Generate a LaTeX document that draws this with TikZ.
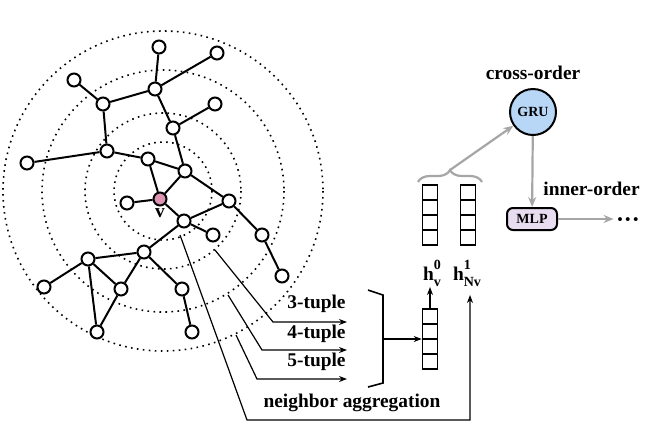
\documentclass[tikz,border=0pt]{standalone}
\usepackage{fontspec}
\usepackage{amsmath}
\setmainfont{Liberation Serif}
\usetikzlibrary{arrows.meta,positioning,calc,decorations.pathreplacing}

\definecolor{vpink}{RGB}{221,148,178}
\definecolor{grublue}{RGB}{184,214,245}
\definecolor{mlplav}{RGB}{232,220,240}
\definecolor{flowgray}{RGB}{166,166,166}

\newcommand{\hvec}[2]{h\makebox[0pt][l]{\raisebox{5.5pt}{\fontsize{7}{8}\selectfont #1}}\raisebox{-3pt}{\fontsize{7}{8}\selectfont #2}}

\tikzset{
  vtx/.style={circle, draw, line width=1pt, fill=white, inner sep=0pt, minimum size=6.5pt},
  ring/.style={line width=0.8pt, dash pattern=on 0.8pt off 2.2pt},
  edge/.style={line width=1pt},
  cell/.style={draw, line width=0.8pt, inner sep=0pt, minimum size=7.5pt},
  lbl/.style={font=\bfseries\fontsize{9.7}{11}\selectfont, inner sep=1pt},
  small/.style={font=\bfseries\fontsize{7}{8}\selectfont, inner sep=0pt},
  tup/.style={line width=0.6pt, -{Stealth[length=4pt,width=3pt]}},
  flow/.style={line width=1.1pt, draw=flowgray, -{Stealth[length=5pt,width=4pt]}}
}

\begin{document}
\begin{tikzpicture}[x=0.5pt, y=-0.5pt]
    \useasboundingbox (0,0) rectangle (647,447);

    % Neighbourhood rings
    \coordinate (ctr) at (163,191);
    \draw[ring] (ctr) circle (49);
    \draw[ring] (ctr) circle (78);
    \draw[ring] (ctr) circle (121);
    \draw[ring] (ctr) circle (160);

    % Graph vertices
    \node[vtx] (n1) at (159,47) {};
    \node[vtx] (n2) at (217,53) {};
    \node[vtx] (n3) at (74,80) {};
    \node[vtx] (n4) at (155,89) {};
    \node[vtx] (n5) at (103,104) {};
    \node[vtx] (n6) at (215,104) {};
    \node[vtx] (n7) at (173,128) {};
    \node[vtx] (n8) at (107,151) {};
    \node[vtx] (n9) at (27,163) {};
    \node[vtx] (n10) at (148,159) {};
    \node[vtx] (n11) at (185,171) {};
    \node[vtx, fill=vpink] (v) at (160,199) {};
    \node[vtx] (n12) at (127,203) {};
    \node[vtx] (n13) at (229,201) {};
    \node[vtx] (n14) at (184,221) {};
    \node[vtx] (n15) at (213,235) {};
    \node[vtx] (n16) at (262,235) {};
    \node[vtx] (n17) at (144,252) {};
    \node[vtx] (n18) at (88,259) {};
    \node[vtx] (n19) at (44,287) {};
    \node[vtx] (n20) at (121,289) {};
    \node[vtx] (n21) at (182,289) {};
    \node[vtx] (n22) at (282,276) {};
    \node[vtx] (n23) at (97,332) {};
    \node[vtx] (n24) at (192,332) {};
    \node[lbl, below=0pt of v] (vname) {v};

    % Graph edges
    \draw[edge] (n1) -- (n4) (n2) -- (n4) (n3) -- (n5) (n5) -- (n4)
                (n4) -- (n7) (n6) -- (n7) (n5) -- (n8) (n9) -- (n8)
                (n8) -- (n10) (n10) -- (n11) (n7) -- (n11) (n10) -- (v)
                (n11) -- (v) (n12) -- (v) (n11) -- (n13) (v) -- (n14)
                (n14) -- (n13) (n14) -- (n15) (n13) -- (n16) (n16) -- (n22)
                (n14) -- (n17) (n17) -- (n18) (n18) -- (n19) (n18) -- (n20)
                (n17) -- (n20) (n18) -- (n23) (n20) -- (n23) (n17) -- (n21)
                (n21) -- (n24);

    % Tuple readouts
    \coordinate (s3) at (215,250);
    \coordinate (k3) at (273,322);
    \coordinate (e3) at (347,322);
    \coordinate (s4) at (228,295);
    \coordinate (k4) at (262,350);
    \coordinate (e4) at (347,350);
    \coordinate (s5) at (236,335);
    \coordinate (k5) at (257,379);
    \coordinate (e5) at (347,379);
    \draw[tup] (s3) -- (k3) -- (e3);
    \draw[tup] (s4) -- (k4) -- (e4);
    \draw[tup] (s5) -- (k5) -- (e5);
    \node[lbl, anchor=east] (t3) at (348,304) {3-tuple};
    \node[lbl, anchor=east] (t4) at (348,334) {4-tuple};
    \node[lbl, anchor=east] (t5) at (348,362) {5-tuple};

    % Bracket
    \draw[line width=0.8pt] (368,290) -- (383,295) -- (383,383) -- (368,387);
    \coordinate (bm) at (383,339);

    % Vectors
    \foreach \i in {1,...,4} {
        \node[cell] (a\i) at (430,{309+15*(\i-1)+7.5}) {};
        \node[cell] (b\i) at (430,{185+15*(\i-1)+7.5}) {};
        \node[cell] (c\i) at (468,{185+15*(\i-1)+7.5}) {};
    }
    \draw[tup] (bm) -- (bm -| a1.west);

    \node[lbl, anchor=south, inner sep=0pt] (h0) at (432,287) {\hvec{0}{v}};
    \node[lbl, anchor=south, inner sep=0pt] (h1) at (467,287) {\hvec{1}{Nv}};
    \draw[tup] (a1.north) -- (a1.north |- h0.south);

    % Neighbor aggregation
    \coordinate (sn) at (180,235);
    \coordinate (kn) at (247,420);
    \coordinate (tn) at (470,295);
    \draw[tup] (sn) -- (kn) -| (tn);
    \node[lbl, anchor=south] (nagg) at (352,414) {neighbor aggregation};

    % Cross-order and inner-order
    \draw[line width=1.1pt, draw=flowgray, decorate, decoration={brace, amplitude=6pt}]
        (418,182) -- (482,182);
    \coordinate (bt) at (450,170);
    \node[circle, draw, line width=1pt, fill=grublue, minimum size=23pt, inner sep=0pt, small] (gru) at (533,112) {GRU};
    \node[lbl, above=3pt of gru] (cross) {cross-order};
    \node[draw, line width=1pt, rounded corners=3pt, fill=mlplav, minimum width=25pt, minimum height=11pt, small] (mlp) at (532,219) {MLP};
    \node[lbl, anchor=south west] (inner) at (541,198) {inner-order};
    \node[font=\bfseries\fontsize{12}{13}\selectfont, inner sep=1pt] (dots) at (628,223) {···};
    \draw[flow] (bt) -- (gru);
    \draw[flow] (gru) -- (mlp);
    \draw[flow] (mlp) -- (mlp -| dots.west);
\end{tikzpicture}
\end{document}
